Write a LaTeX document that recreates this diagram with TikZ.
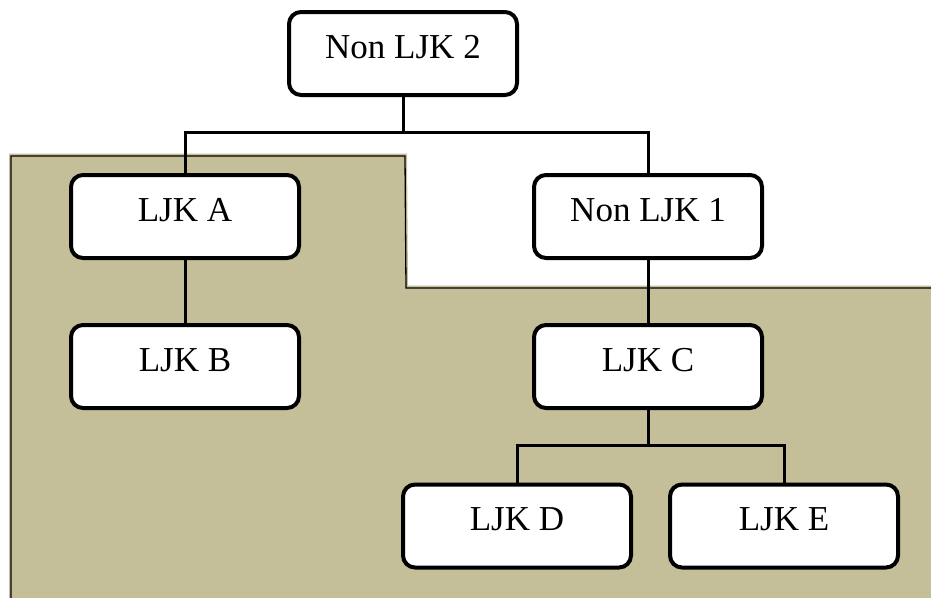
\documentclass[tikz,border=0pt]{standalone}
\usepackage{fontspec}
\setmainfont{Liberation Serif}
\definecolor{khaki}{RGB}{196,190,153}
\begin{document}
\begin{tikzpicture}[x=1pt,y=-1pt,
  box/.style={draw=black, line width=4pt, fill=white, rounded corners=12pt,
    minimum width=228pt, inner xsep=0pt, inner ysep=0pt,
    text height=46pt, text depth=37pt,
    font=\fontsize{35}{40}\selectfont},
  link/.style={draw=black, line width=3pt}]
\useasboundingbox (0,0) rectangle (931,597);
% background region
\fill[khaki] (9,153.5) -- (407,153.5) -- (408,285.5) -- (935,285.5) -- (935,600) -- (9,600) -- cycle;
\draw[line width=1.3pt] (935,288) -- (406,288) -- (405,156) -- (11,156) -- (11,600);
% nodes
\node[box] (n2) at (403,53.5) {Non LJK 2};
\node[box] (a)  at (185,216.5) {LJK A};
\node[box] (n1) at (648,216.5) {Non LJK 1};
\node[box] (b)  at (185,366.5) {LJK B};
\node[box] (c)  at (648,366.5) {LJK C};
\node[box] (d)  at (517,526) {LJK D};
\node[box] (e)  at (784,526) {LJK E};
\coordinate (j1) at (403,132);
\coordinate (j2) at (648,445);
% connectors
\draw[link] (n2.south) -- (j1);
\draw[link] (a.north) |- (j1) -| (n1.north);
\draw[link] (a.south) -- (b.north);
\draw[link] (n1.south) -- (c.north);
\draw[link] (c.south) -- (j2);
\draw[link] (d.north) |- (j2) -| (e.north);
\end{tikzpicture}
\end{document}
